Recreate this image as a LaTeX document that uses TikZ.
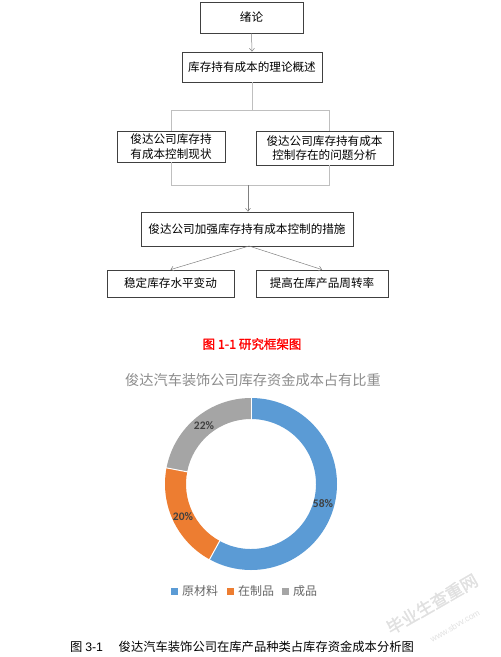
\documentclass[tikz,border=0pt]{standalone}
\usepackage{fontspec}
\setmainfont{Noto Sans CJK SC}
\newfontfamily\cjkb[FakeBold=1.6]{Noto Sans CJK SC}
\newfontfamily\pctfont{Carlito}
\newfontfamily\capfont{Liberation Sans}
\usetikzlibrary{arrows.meta}
\definecolor{pblue}{HTML}{5B9BD5}
\definecolor{porange}{HTML}{ED7D31}
\definecolor{pgray}{HTML}{A5A5A5}
\definecolor{lgray}{HTML}{BFBFBF}
\definecolor{ttlgray}{HTML}{8C8C8C}
\definecolor{lblgray}{HTML}{404040}
\tikzset{
  fbox/.style={draw=black!75, line width=0.8pt, align=center, inner sep=0pt, font=\fontsize{11.6}{14.5}\selectfont},
  conn/.style={draw=lgray, line width=0.8pt},
  arr/.style={draw=gray, line width=0.5pt, -{Straight Barb[length=3pt,width=5pt]}},
  slice/.style={draw=white, line width=1pt},
  pct/.style={font=\pctfont\bfseries\fontsize{11.5}{13}\selectfont, text=lblgray},
  leg/.style={font=\fontsize{12}{13}\selectfont, text=black!60, inner sep=0pt, anchor=west},
  legsq/.style={minimum size=7pt, inner sep=0pt},
  wmark/.style={rotate=30, text=black!12, inner sep=0pt}
}
\begin{document}
\begin{tikzpicture}[x=1pt,y=-1pt]
\useasboundingbox (0,0) rectangle (501,657);
% flowchart
\node[fbox, minimum width=103pt, minimum height=31pt] (b1) at (251.5,17.5) {绪论};
\node[fbox, minimum width=140pt, minimum height=30pt] (b2) at (252,67) {库存持有成本的理论概述};
\node[fbox, minimum width=108pt, minimum height=31pt] (b3l) at (171,146.5) {俊达公司库存持\\有成本控制现状};
\node[fbox, minimum width=137pt, minimum height=34pt] (b3r) at (324.5,148) {俊达公司库存持有成本\\控制存在的问题分析};
\node[fbox, minimum width=212pt, minimum height=34pt] (b4) at (247,229) {俊达公司加强库存持有成本控制的措施};
\node[fbox, minimum width=127pt, minimum height=27pt] (b5l) at (170.5,283.5) {稳定库存水平变动};
\node[fbox, minimum width=132pt, minimum height=27pt] (b5r) at (322,283.5) {提高在库产品周转率};

\draw[arr] (b1.south) -- (b2.north);
\coordinate (j1) at (252,110);
\coordinate (j1l) at (171,110);
\coordinate (j1r) at (329,110);
\draw[conn] (b2.south) -- (j1);
\draw[conn] (b3l.north) -- (j1l) -- (j1r) -- (329,131);
\coordinate (j2l) at (171,185);
\coordinate (j2r) at (329,185);
\coordinate (j2) at (248,185);
\draw[conn] (b3l.south) -- (j2l) -- (j2r) -- (329,165);
\draw[arr] (j2) -- (b4.north -| j2);
\coordinate (j3) at (249,246);
\draw[arr] (j3) -- (b5l.north);
\draw[arr] (j3) -- (b5r.north);

% caption 1
\node[font=\cjkb\fontsize{12.5}{14}\selectfont, text=red] (cap1) at (252,344) {图 1-1 研究框架图};

% chart title
\node[font=\fontsize{14.2}{16}\selectfont, text=ttlgray] (ttl) at (253,380) {俊达汽车装饰公司库存资金成本占有比重};

% donut
\begin{scope}[shift={(251,484)}, y=1pt]
\fill[pblue] (90:86) arc[start angle=90, end angle=-118.8, radius=86] -- (-118.8:65) arc[start angle=-118.8, end angle=90, radius=65] -- cycle;
\fill[porange] (-118.8:86) arc[start angle=-118.8, end angle=-190.8, radius=86] -- (-190.8:65) arc[start angle=-190.8, end angle=-118.8, radius=65] -- cycle;
\fill[pgray] (-190.8:86) arc[start angle=-190.8, end angle=-270, radius=86] -- (-270:65) arc[start angle=-270, end angle=-190.8, radius=65] -- cycle;
\draw[slice] (90:64) -- (90:87);
\draw[slice] (-118.8:64) -- (-118.8:87);
\draw[slice] (-190.8:64) -- (-190.8:87);
\end{scope}
\node[pct] (p58) at (323,504) {58\%};
\node[pct] (p20) at (183,517) {20\%};
\node[pct] (p22) at (204,426) {22\%};

% legend
\node[legsq, fill=pblue] (s1) at (174,591) {};
\node[leg] (l1) at (182,591) {原材料};
\node[legsq, fill=porange] (s2) at (230,591) {};
\node[leg] (l2) at (238,591) {在制品};
\node[legsq, fill=pgray] (s3) at (285,591) {};
\node[leg] (l3) at (293,591) {成品};

% watermark
\node[wmark, font=\cjkb\fontsize{17}{20}\selectfont] (wm1) at (432,604) {毕业生查重网};
\node[wmark, font=\capfont\fontsize{8.5}{10}\selectfont] (wm2) at (455,626) {www.sbvv.com};

% caption 2
\node[font=\fontsize{12.3}{14}\selectfont, anchor=west, inner sep=0pt] (cap2) at (70,647) {图 \capfont 3-1\quad\ \normalfont 俊达汽车装饰公司在库产品种类占库存资金成本分析图};
\end{tikzpicture}
\end{document}
